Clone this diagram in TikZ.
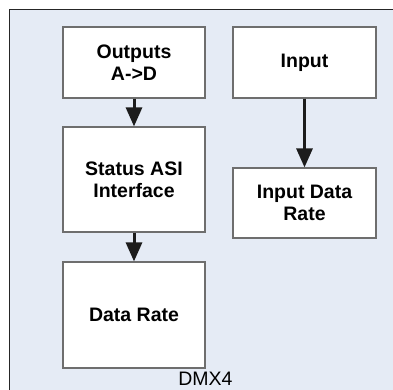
\documentclass[tikz,border=0pt]{standalone}
\usepackage{fontspec}
\setmainfont{Liberation Sans}
\usetikzlibrary{arrows.meta}
\definecolor{bgblue}{HTML}{E5EBF5}
\definecolor{boxline}{HTML}{6E6E6E}
\definecolor{arrowc}{HTML}{1C1C1C}
\begin{document}
\begin{tikzpicture}[x=1pt,y=-1pt,
  blk/.style={draw=boxline,line width=1.2pt,fill=white,align=center,
    font=\fontsize{19.5}{22}\selectfont\bfseries,inner sep=0pt},
  conn/.style={draw=arrowc,line width=3pt,-{Triangle[length=19pt,width=16pt]}}]
\useasboundingbox (0,0) rectangle (393,389);
\fill[white] (0,0) rectangle (393,389);
\draw[fill=bgblue,draw=black!85,line width=1pt] (9,9) rectangle (400,400);
\node[blk,minimum width=142pt,minimum height=71pt] (out) at (134,62.5) {Outputs\\A->D};
\node[blk,minimum width=142pt,minimum height=105pt] (stat) at (134,179.5) {Status ASI\\Interface};
\node[blk,minimum width=142pt,minimum height=106pt] (dr) at (134,315) {Data Rate};
\node[blk,minimum width=143pt,minimum height=71pt] (in) at (304.5,62.5) {Input};
\node[blk,minimum width=143pt,minimum height=70pt] (idr) at (304.5,203) {Input Data\\Rate};
\node[font=\fontsize{19.5}{22}\selectfont,inner sep=0pt,anchor=base] (lab) at (205.5,385.5) {DMX4};
\draw[conn] (out.south) -- (stat.north);
\draw[conn] (stat.south) -- (dr.north);
\draw[conn] (in.south) -- (idr.north);
\end{tikzpicture}
\end{document}
